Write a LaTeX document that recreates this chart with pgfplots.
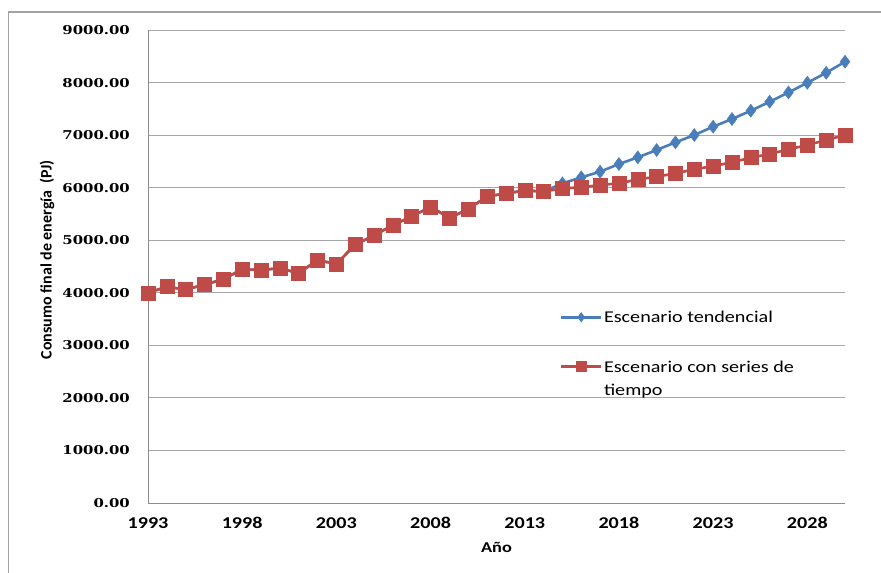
\documentclass[border=0pt]{standalone}
\usepackage{pgfplots}
\pgfplotsset{compat=1.18}
\usepackage{fontspec}
\setmainfont{Carlito}
\newfontfamily\calS[FakeStretch=1.22]{Carlito}
\newfontfamily\serS[FakeStretch=1.22]{DejaVu Serif}
\definecolor{serblue}{HTML}{4A7EBB}
\definecolor{serred}{HTML}{BE4B48}
\definecolor{gridc}{HTML}{A6A6A6}
\definecolor{axc}{HTML}{8C8C8C}
\begin{document}
\begin{tikzpicture}[x=1pt,y=1pt]
\useasboundingbox (0,0) rectangle (881,573);
\draw[axc!80, line width=1.2pt] (8.3,0) -- (8.3,561) -- (881,561);
\begin{axis}[
  at={(148pt,70pt)}, anchor=south west,
  scale only axis, width=697pt, height=473pt,
  xmin=1993, xmax=2030, ymin=0, ymax=9000,
  axis x line*=bottom, axis y line*=left,
  axis line style={axc, line width=0.9pt, -},
  xtick={1993,1998,2003,2008,2013,2018,2023,2028},
  ytick={0,1000,...,9000},
  major tick length=0pt,
  ymajorgrids, grid style={gridc, line width=0.9pt},
  xticklabel style={font=\calS\bfseries\fontsize{16.5}{18}\selectfont, anchor=base, yshift=-26pt, inner sep=0pt},
  yticklabel style={font=\serS\bfseries\fontsize{12.2}{14}\selectfont, anchor=east, xshift=-18pt, inner sep=0pt},
  /pgf/number format/assume math mode=true,
  xticklabel={\pgfmathprintnumber[fixed,1000 sep={},precision=0]{\tick}},
  yticklabel={\pgfmathprintnumber[fixed,fixed zerofill,precision=2,1000 sep={}]{\tick}},
  xlabel={Año}, ylabel={Consumo final de energía \ (PJ)},
  every axis x label/.style={at={(axis description cs:0.5,-0.093)}, anchor=center, font=\calS\bfseries\fontsize{15}{17}\selectfont},
  every axis y label/.style={at={(axis description cs:-0.145,0.514)}, rotate=90, anchor=center, font=\bfseries\fontsize{16}{18}\selectfont},
  legend style={at={(axis description cs:0.591,0.408)}, anchor=north west, draw=none, fill=none,
    inner sep=0pt, outer sep=0pt, row sep=35pt,
    font=\calS\fontsize{16.5}{23}\selectfont,
    nodes={inner sep=1.5pt, text depth=0pt}},
  legend cell align=left,
  legend image code/.code={\draw[#1, mark repeat=2, mark phase=2, every mark/.append style={scale=0.72}] plot coordinates {(0pt,0pt) (20pt,0pt) (40pt,0pt)};},
]
\addplot[serblue, line width=2.6pt, mark=diamond*, mark size=6.5pt, mark options={solid, fill=serblue, draw=serblue, line width=0.5pt}] coordinates {
(1993,4000) (1994,4115) (1995,4060) (1996,4155) (1997,4258) (1998,4448) (1999,4433) (2000,4468)
(2001,4372) (2002,4623) (2003,4547) (2004,4918) (2005,5090) (2006,5289) (2007,5452) (2008,5635)
(2009,5425) (2010,5590) (2011,5835) (2012,5888) (2013,5948) (2014,5925)
(2015,6082) (2016,6196) (2017,6304) (2018,6450) (2019,6577) (2020,6716) (2021,6862) (2022,7001)
(2023,7160) (2024,7306) (2025,7464) (2026,7635) (2027,7812) (2028,7996) (2029,8186) (2030,8396)
};
\addlegendentry{Escenario tendencial}
\addplot[serred, line width=2.6pt, mark=square*, mark size=7pt, mark options={solid, fill=serred, draw=serred, line width=0.5pt}] coordinates {
(1993,4000) (1994,4115) (1995,4060) (1996,4155) (1997,4258) (1998,4448) (1999,4433) (2000,4468)
(2001,4372) (2002,4623) (2003,4547) (2004,4918) (2005,5090) (2006,5289) (2007,5452) (2008,5635)
(2009,5425) (2010,5590) (2011,5835) (2012,5888) (2013,5948) (2014,5925)
(2015,5988) (2016,6006) (2017,6050) (2018,6082) (2019,6158) (2020,6208) (2021,6272) (2022,6348)
(2023,6412) (2024,6482) (2025,6570) (2026,6640) (2027,6729) (2028,6811) (2029,6906) (2030,7001)
};
\addlegendentry{\vtop{\hbox{Escenario con series de}\hbox{tiempo}}}
\end{axis}
\end{tikzpicture}
\end{document}
